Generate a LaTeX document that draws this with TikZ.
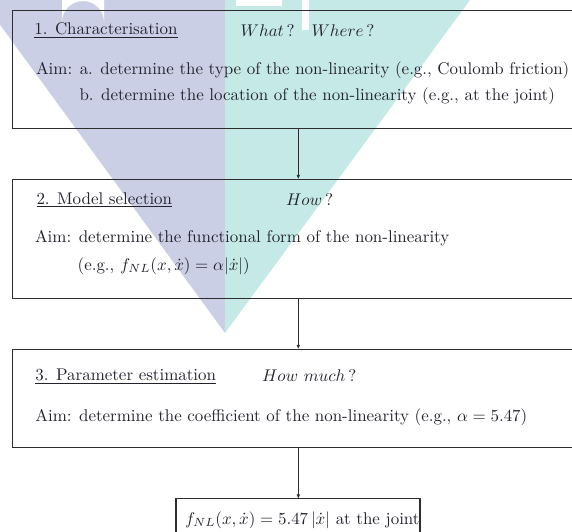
\documentclass[tikz,border=0pt]{standalone}
\usetikzlibrary{arrows.meta}
\definecolor{wmpurple}{RGB}{202,207,229}
\definecolor{wmteal}{RGB}{197,233,230}
\definecolor{linecol}{RGB}{45,45,45}
\definecolor{txtcol}{RGB}{35,35,45}
\begin{document}
\begin{tikzpicture}[x=0.5903pt,y=-0.5903pt,
  box/.style={draw=linecol, line width=0.6pt, anchor=north west, inner sep=0pt, outer sep=0pt},
  lbl/.style={anchor=base west, inner sep=0pt, outer sep=0pt, text=txtcol, font=\fontsize{10}{12}\selectfont},
  conn/.style={draw=linecol, line width=0.6pt, -{Latex[length=2.6pt,width=2.2pt]}}]
\useasboundingbox (0,0) rectangle (572,531);
\clip (0,0) rectangle (572,531);
% watermark
\fill[wmpurple] (-18,0) -- (225,0) -- (225,333) -- cycle;
\fill[wmteal] (225,0) -- (470,0) -- (225,333) -- cycle;
\fill[white] (62,-2) -- (62,22) arc[start angle=180, end angle=360, radius=21] -- (104,-2) -- cycle;
\fill[white] (302,-2) rectangle (309,30);
\fill[white] (236,-2) rectangle (282,6);
% boxes
\node[box, minimum width=590*0.5903pt, minimum height=117.6*0.5903pt] (b1) at (12.7,10.7) {};
\node[box, minimum width=590*0.5903pt, minimum height=119.1*0.5903pt] (b2) at (12.7,179.2) {};
\node[box, minimum width=590*0.5903pt, minimum height=98.5*0.5903pt] (b3) at (12.7,349.2) {};
\node[box, minimum width=244*0.5903pt, minimum height=60*0.5903pt] (b4) at (176,498.8) {};
% texts
\node[lbl] (t1) at (34.3,34.3) {\underline{1. Characterisation}};
\node[lbl] (q1) at (240.7,36) {$What$\,?\quad $Where$\,?};
\node[lbl] (a1) at (36,74) {Aim: a. determine the type of the non-linearity (e.g., Coulomb friction)};
\node[lbl] (a1b) at (79.5,100.7) {b. determine the location of the non-linearity (e.g., at the joint)};
\node[lbl] (t2) at (36.5,204) {\underline{2. Model selection}};
\node[lbl] (q2) at (286,205) {$How$\,?};
\node[lbl] (a2) at (35,242.7) {Aim: determine the functional form of the non-linearity};
\node[lbl] (a2b) at (77.7,270) {(e.g., $f_{NL}(x,\dot{x}) = \alpha|\dot{x}|$)};
\node[lbl] (t3) at (35.4,380.7) {\underline{3. Parameter estimation}};
\node[lbl] (q3) at (262,381) {$How\ much$\,?};
\node[lbl] (a3) at (35.4,421) {Aim: determine the coefficient of the non-linearity (e.g., $\alpha = 5.47$)};
\node[lbl] (t4) at (185,524.3) {$f_{NL}(x,\dot{x}) = 5.47\,|\dot{x}|$ at the joint};
% connectors
\coordinate (ax) at (298.3,0);
\draw[conn] (b1.south -| ax) -- (b2.north -| ax);
\draw[conn] (b2.south -| ax) -- (b3.north -| ax);
\draw[conn] (b3.south -| ax) -- (b4.north -| ax);
\end{tikzpicture}
\end{document}
